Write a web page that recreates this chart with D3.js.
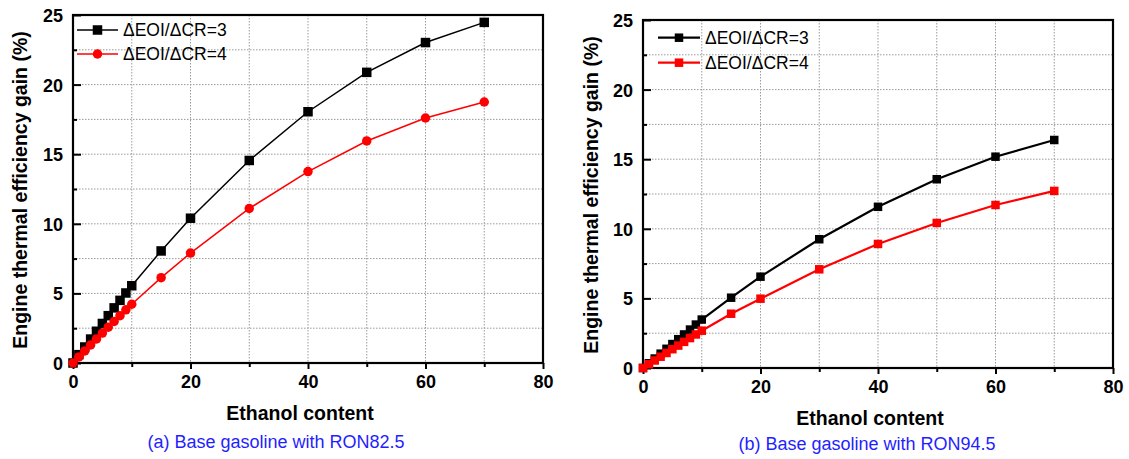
<!DOCTYPE html>
<html>
<head>
<meta charset="utf-8">
<script src="https://cdn.jsdelivr.net/npm/d3@7/dist/d3.min.js"></script>
<style>
  html, body { margin: 0; padding: 0; background: #fff; }
  svg { display: block; font-family: "Liberation Sans", Arial, sans-serif; }
</style>
</head>
<body>
<svg id="chart" width="1129" height="459"></svg>
<script>
// Ethanol content (%) at which the efficiency gain was evaluated
const ethanol = [0, 1, 2, 3, 4, 5, 6, 7, 8, 9, 10, 15, 20, 30, 40, 50, 60, 70];

// (a) base gasoline RON82.5
const gainA3 = [0, 0.6, 1.15, 1.72, 2.28, 2.84, 3.4, 3.96, 4.5, 5.03, 5.55, 8.05, 10.4, 14.55, 18.05, 20.88, 23.02, 24.47];
const gainA4 = [0, 0.44, 0.87, 1.3, 1.73, 2.15, 2.57, 2.99, 3.4, 3.82, 4.22, 6.13, 7.9, 11.1, 13.75, 15.95, 17.6, 18.75];

// (b) base gasoline RON94.5
const gainB3 = [0, 0.34, 0.68, 1.03, 1.38, 1.72, 2.07, 2.41, 2.76, 3.12, 3.48, 5.05, 6.56, 9.25, 11.58, 13.56, 15.18, 16.38];
const gainB4 = [0, 0.27, 0.54, 0.81, 1.08, 1.35, 1.61, 1.88, 2.15, 2.41, 2.68, 3.9, 4.98, 7.09, 8.91, 10.42, 11.71, 12.72];

const seriesNames = ["\u0394EOI/\u0394CR=3", "\u0394EOI/\u0394CR=4"];
const xTicks = [0, 20, 40, 60, 80];
const xMinor = [10, 30, 50, 70];
const yTicks = [0, 5, 10, 15, 20, 25];
const yMinor = [2.5, 7.5, 12.5, 17.5, 22.5];
const xTitle = "Ethanol content";
const yTitle = "Engine thermal efficiency gain (%)";
const captions = ["(a) Base gasoline with RON82.5", "(b) Base gasoline with RON94.5"];

const svg = d3.select("#chart");
const W = 470, H = 348;

function drawPanel(cfg) {
  const g = svg.append("g").attr("transform", `translate(${cfg.left},${cfg.top})`);
  const x = d3.scaleLinear().domain([0, 80]).range([0, W]);
  const y = d3.scaleLinear().domain([0, 25]).range([H, 0]);

  // dotted grid at major and minor positions
  const grid = g.append("g").attr("stroke", "#9a9a9a").attr("stroke-width", 1)
    .attr("stroke-dasharray", "1.5,1.5");
  grid.selectAll(".gx").data(xTicks.concat(xMinor).filter(v => v > 0 && v < 80)).join("line")
    .attr("x1", d => x(d)).attr("x2", d => x(d)).attr("y1", 0).attr("y2", H);
  grid.selectAll(".gy").data(yTicks.concat(yMinor).filter(v => v > 0 && v < 25)).join("line")
    .attr("y1", d => y(d)).attr("y2", d => y(d)).attr("x1", 0).attr("x2", W);

  // x axis: labelled major ticks plus short minor ticks, pointing down
  const xa = g.append("g").attr("transform", `translate(0,${H})`)
    .call(d3.axisBottom(x).tickValues(xTicks).tickSize(6).tickPadding(6).tickFormat(d3.format("d")));
  g.append("g").attr("transform", `translate(0,${H})`)
    .call(d3.axisBottom(x).tickValues(xMinor).tickSize(4).tickFormat(""))
    .call(s => s.select(".domain").remove());

  // y axis: ticks pointing into the plot
  const ya = g.append("g")
    .call(d3.axisLeft(y).tickValues(yTicks).tickSize(-8).tickPadding(10).tickFormat(d3.format("d")));
  g.append("g")
    .call(d3.axisLeft(y).tickValues(yMinor).tickSize(-4).tickFormat(""))
    .call(s => s.select(".domain").remove());

  svg.selectAll(".tick line").attr("stroke", "#000").attr("stroke-width", 2);
  [xa, ya].forEach(a => {
    a.select(".domain").remove();
    a.selectAll("text").attr("font-size", 18).attr("font-weight", "bold")
      .attr("fill", "#000").attr("font-family", "Liberation Sans, Arial, sans-serif");
  });
  xa.selectAll("text").attr("dy", "0.71em");
  ya.selectAll("text").attr("dy", "0.36em");

  // frame
  g.append("rect").attr("x", 0).attr("y", 0).attr("width", W).attr("height", H)
    .attr("fill", "none").attr("stroke", "#000").attr("stroke-width", 2.2);

  const line = d3.line().x((d, i) => x(ethanol[i])).y(d => y(d));
  cfg.series.forEach(s => {
    g.append("path").datum(s.values).attr("d", line)
      .attr("fill", "none").attr("stroke", s.color).attr("stroke-width", cfg.lineWidth);
    const pts = g.append("g").attr("fill", s.color);
    if (s.shape === "circle") {
      pts.selectAll("circle").data(s.values).join("circle")
        .attr("cx", (d, i) => x(ethanol[i])).attr("cy", d => y(d)).attr("r", cfg.marker / 2);
    } else {
      pts.selectAll("rect").data(s.values).join("rect")
        .attr("x", (d, i) => x(ethanol[i]) - cfg.marker / 2).attr("y", d => y(d) - cfg.marker / 2)
        .attr("width", cfg.marker).attr("height", cfg.marker);
    }
  });

  // legend
  cfg.series.forEach((s, k) => {
    const ly = cfg.legend.y + k * cfg.legend.gap;
    const lg = g.append("g");
    lg.append("line").attr("x1", cfg.legend.x).attr("x2", cfg.legend.x + cfg.legend.len)
      .attr("y1", ly).attr("y2", ly).attr("stroke", s.color).attr("stroke-width", cfg.lineWidth);
    const mx = cfg.legend.x + cfg.legend.len / 2;
    if (s.shape === "circle") {
      lg.append("circle").attr("cx", mx).attr("cy", ly).attr("r", cfg.marker / 2).attr("fill", s.color);
    } else {
      lg.append("rect").attr("x", mx - cfg.marker / 2).attr("y", ly - cfg.marker / 2)
        .attr("width", cfg.marker).attr("height", cfg.marker).attr("fill", s.color);
    }
    lg.append("text").attr("x", cfg.legend.x + cfg.legend.len + 5).attr("y", ly)
      .attr("dy", "0.36em").attr("font-size", 17.5).attr("fill", "#000").text(s.name);
  });

  // axis titles and caption
  g.append("text").attr("x", cfg.xTitleX).attr("y", H + 57).attr("text-anchor", "middle")
    .attr("font-size", 19.5).attr("font-weight", "bold").text(xTitle);
  g.append("text").attr("transform", `translate(${cfg.yTitleX},${cfg.yTitleY}) rotate(-90)`)
    .attr("text-anchor", "middle").attr("font-size", 19.5).attr("font-weight", "bold").text(yTitle);
  g.append("text").attr("x", cfg.captionX).attr("y", H + cfg.captionDy).attr("text-anchor", "middle")
    .attr("font-size", 18).attr("fill", "#1f1fff").text(cfg.caption);
}

drawPanel({
  left: 73, top: 15, lineWidth: 1.5, marker: 9.5,
  series: [
    { name: seriesNames[0], values: gainA3, color: "#000000", shape: "square" },
    { name: seriesNames[1], values: gainA4, color: "#ff0000", shape: "circle" }
  ],
  legend: { x: 4, y: 15, gap: 24, len: 41 },
  xTitleX: 227, yTitleX: -46, yTitleY: 175,
  caption: captions[0], captionX: 203, captionDy: 85
});

drawPanel({
  left: 643, top: 20, lineWidth: 2.2, marker: 8.5,
  series: [
    { name: seriesNames[0], values: gainB3, color: "#000000", shape: "square" },
    { name: seriesNames[1], values: gainB4, color: "#ff0000", shape: "square" }
  ],
  legend: { x: 15, y: 17.7, gap: 25, len: 42 },
  xTitleX: 227, yTitleX: -45, yTitleY: 175,
  caption: captions[1], captionX: 224, captionDy: 82
});
</script>
</body>
</html>
